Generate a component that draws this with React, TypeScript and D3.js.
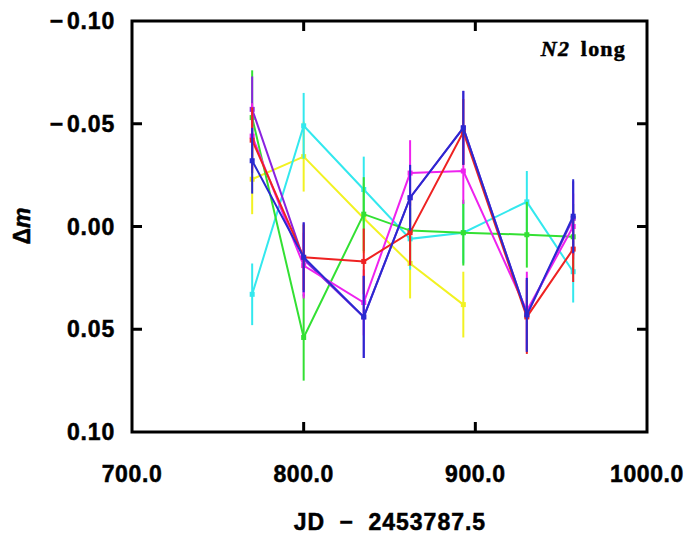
import React from "react";
import * as d3 from "d3";

const xDates = [770, 800, 835, 862, 893, 930, 957];
const xTicks = [700, 800, 900, 1000];
const yTicks = [-0.1, -0.05, 0, 0.05, 0.1];

const greenVals = [-0.053, 0.054, -0.006, 0.002, 0.003, 0.004, 0.005];
const greenErr = [0.023, 0.021, 0.018, 0.016, 0.016, 0.016, 0.016];
const cyanVals = [0.033, -0.049, -0.018, 0.006, 0.003, -0.012, 0.022];
const cyanErr = [0.015, 0.016, 0.016, 0.015, 0.015, 0.015, 0.015];
const yellowVals = [-0.023, -0.034, -0.004, 0.018, 0.038];
const yellowErr = [0.017, 0.017, 0.017, 0.017, 0.016];
const purpleVals = [-0.057, 0.016, 0.044, -0.014, -0.048, 0.043, -0.004];
const purpleErr = [0.016, 0.018, 0.020, 0.016, 0.018, 0.018, 0.018];
const magentaVals = [-0.044, 0.019, 0.037, -0.026, -0.027, 0.041, 0.0];
const magentaErr = [0.016, 0.016, 0.016, 0.016, 0.016, 0.019, 0.016];
const redVals = [-0.042, 0.015, 0.017, 0.003, -0.046, 0.044, 0.011];
const redErr = [0.016, 0.016, 0.016, 0.016, 0.016, 0.018, 0.016];
const blueVals = [-0.032, 0.015, 0.044, -0.014, -0.048, 0.043, -0.005];
const blueErr = [0.016, 0.017, 0.020, 0.016, 0.018, 0.018, 0.018];

const series = [
  { name: "yellow", color: "#f2f222", vals: yellowVals, err: yellowErr },
  { name: "cyan", color: "#33e8ee", vals: cyanVals, err: cyanErr },
  { name: "green", color: "#33e033", vals: greenVals, err: greenErr },
  { name: "purple", color: "#8a22e0", vals: purpleVals, err: purpleErr },
  { name: "magenta", color: "#ee22ee", vals: magentaVals, err: magentaErr },
  { name: "red", color: "#ee2222", vals: redVals, err: redErr },
  { name: "blue", color: "#2a2ad0", vals: blueVals, err: blueErr },
];

const W = 687;
const H = 539;
const L = 132, R = 647, T = 21, B = 432;

export default function App() {
  const x = d3.scaleLinear().domain([700, 1000]).range([L, R]);
  const y = d3.scaleLinear().domain([-0.1, 0.1]).range([T, B]);
  const line = d3
    .line<[number, number]>()
    .x((d) => x(d[0]))
    .y((d) => y(d[1]));
  const fmtY = (v: number) => {
    const s = Math.abs(v).toFixed(2);
    return v < -1e-9 ? "\u2212" + s : s;
  };
  const labelFont = "'Liberation Sans', Arial, Helvetica, sans-serif";
  const heavy = { stroke: "#000", strokeWidth: 0.5 };
  return (
    <svg
      width={W}
      height={H}
      style={{ position: "absolute", left: 0, top: 0, background: "#fff" }}
    >
      {series.map((s) => {
        const pts: [number, number][] = s.vals.map((v, i) => [xDates[i], v]);
        return (
          <g key={s.name}>
            {pts.map((p, i) => (
              <line
                key={"e" + i}
                x1={x(p[0])}
                x2={x(p[0])}
                y1={y(p[1] - s.err[i])}
                y2={y(p[1] + s.err[i])}
                stroke={s.color}
                strokeWidth={2}
              />
            ))}
            <path d={line(pts) || ""} fill="none" stroke={s.color} strokeWidth={2} />
            {pts.map((p, i) => (
              <rect
                key={"m" + i}
                x={x(p[0]) - 2.5}
                y={y(p[1]) - 2.5}
                width={5}
                height={5}
                fill={s.color}
              />
            ))}
          </g>
        );
      })}
      {/* frame */}
      <rect x={L} y={T} width={R - L} height={B - T} fill="none" stroke="#000" strokeWidth={3} />
      {xTicks.slice(1, -1).map((t) => (
        <g key={"xt" + t}>
          <line x1={x(t)} x2={x(t)} y1={T} y2={T + 10} stroke="#000" strokeWidth={3} />
          <line x1={x(t)} x2={x(t)} y1={B} y2={B - 10} stroke="#000" strokeWidth={3} />
        </g>
      ))}
      {yTicks.slice(1, -1).map((t) => (
        <g key={"yt" + t}>
          <line x1={L} x2={L + 10} y1={y(t)} y2={y(t)} stroke="#000" strokeWidth={3} />
          <line x1={R} x2={R - 10} y1={y(t)} y2={y(t)} stroke="#000" strokeWidth={3} />
        </g>
      ))}
      {xTicks.map((t) => (
        <text
          key={"xl" + t}
          x={x(t)}
          y={482}
          textAnchor="middle"
          fontFamily={labelFont}
          fontWeight="bold"
          fontSize={23}
          letterSpacing={0.6}
          {...heavy}
        >
          {t.toFixed(1)}
        </text>
      ))}
      {yTicks.map((t) => (
        <text
          key={"yl" + t}
          x={115}
          y={y(t) + 8}
          textAnchor="end"
          fontFamily={labelFont}
          fontWeight="bold"
          fontSize={23}
          letterSpacing={0.8}
          {...heavy}
        >
          {t < -1e-9 ? (
            <>
              <tspan>{"\u2212"}</tspan>
              <tspan dx={3}>{fmtY(t).slice(1)}</tspan>
            </>
          ) : (
            fmtY(t)
          )}
        </text>
      ))}
      <text
        x={390}
        y={530}
        textAnchor="middle"
        fontFamily={labelFont}
        fontWeight="bold"
        fontSize={23}
        letterSpacing={1}
        wordSpacing={7}
        {...heavy}
      >
        JD {"\u2212"} 2453787.5
      </text>
      <text
        transform="translate(30,226) rotate(-90)"
        textAnchor="middle"
        fontFamily={labelFont}
        fontWeight="bold"
        fontSize={23}
        {...heavy}
      >
        Δ<tspan fontStyle="italic">m</tspan>
      </text>
      <text
        x={626}
        y={56}
        textAnchor="end"
        fontFamily="'Liberation Serif', 'Times New Roman', serif"
        fontWeight="bold"
        fontSize={22}
        letterSpacing={1.2}
        wordSpacing={4}
        {...heavy}
      >
        <tspan fontStyle="italic">N2</tspan> long
      </text>
    </svg>
  );
}
